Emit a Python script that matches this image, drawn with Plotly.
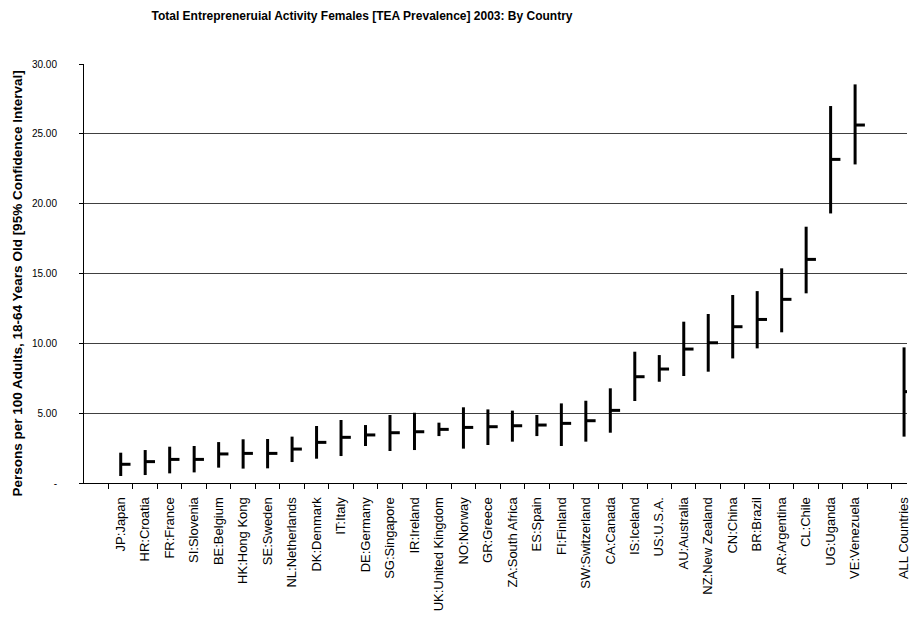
import plotly.graph_objects as go

labels = ["JP:Japan", "HR:Croatia", "FR:France", "SI:Slovenia", "BE:Belgium", "HK:Hong Kong",
          "SE:Sweden", "NL:Netherlands", "DK:Denmark", "IT:Italy", "DE:Germany", "SG:Singapore",
          "IR:Ireland", "UK:United Kingdom", "NO:Norway", "GR:Greece", "ZA:South Africa",
          "ES:Spain", "FI:Finland", "SW:Switzerland", "CA:Canada", "IS:Iceland", "US:U.S.A.",
          "AU:Australia", "NZ:New Zealand", "CN:China", "BR:Brazil", "AR:Argentina", "CL:Chile",
          "UG:Uganda", "VE:Venezuela", "ALL Countries"]
positions = list(range(1, 32)) + [33]

low = [0.50, 0.57, 0.69, 0.76, 1.10, 1.03, 1.05, 1.50, 1.74, 1.93, 2.65, 2.29, 2.36, 3.36,
       2.46, 2.72, 2.96, 3.36, 2.65, 2.96, 3.60, 5.87, 7.25, 7.66, 7.97, 8.92, 9.64, 10.79,
       13.58, 19.30, 22.81, 3.32]
mean = [1.34, 1.53, 1.69, 1.69, 2.08, 2.12, 2.12, 2.43, 2.91, 3.27, 3.44, 3.60, 3.67, 3.84,
        3.98, 4.03, 4.10, 4.15, 4.27, 4.46, 5.20, 7.61, 8.16, 9.59, 10.04, 11.19, 11.71, 13.15,
        16.01, 23.17, 25.63, 6.54]
high = [2.17, 2.36, 2.60, 2.65, 2.93, 3.13, 3.15, 3.32, 4.08, 4.51, 4.15, 4.87, 5.03, 4.32,
        5.42, 5.27, 5.18, 4.87, 5.70, 5.89, 6.78, 9.40, 9.16, 11.55, 12.10, 13.46, 13.74, 15.37,
        18.35, 26.99, 28.54, 9.71]

ytick_vals = [0, 5, 10, 15, 20, 25, 30]
ytick_text = ["-", "5.00", "10.00", "15.00", "20.00", "25.00", "30.00"]

tick_len = 0.4

vx, vy, tx, ty = [], [], [], []
for p, lo, m, hi in zip(positions, low, mean, high):
    vx += [p, p, None]
    vy += [lo, hi, None]
    tx += [p, p + tick_len, None]
    ty += [m, m, None]

font = "Liberation Sans, Arial, sans-serif"
fig = go.Figure()
fig.add_trace(go.Scatter(x=vx, y=vy, mode="lines", line=dict(color="black", width=3),
                         hoverinfo="skip", showlegend=False))
fig.add_trace(go.Scatter(x=tx, y=ty, mode="lines", line=dict(color="black", width=3),
                         hoverinfo="skip", showlegend=False))

fig.update_layout(
    width=911, height=619,
    margin=dict(l=84, r=0, t=64, b=136),
    paper_bgcolor="white", plot_bgcolor="white",
    title=dict(text="<b>Total Entrepreneruial Activity Females [TEA Prevalence] 2003: By Country</b>",
               x=362 / 911, xanchor="center", xref="container", y=0.975, yanchor="middle",
               font=dict(family=font, size=12, color="black")),
    font=dict(family=font, color="black"),
    xaxis=dict(range=[-0.5, 33.12], tickmode="array", tickvals=positions, ticktext=labels,
               tickangle=-90, ticks="", showgrid=False, zeroline=False,
               showline=True, linecolor="black", linewidth=1,
               tickfont=dict(family=font, size=13, color="black"),
               ticklabelstandoff=8, ticklabeloverflow="allow",
               minor=dict(tickmode="array", tickvals=[i + 0.5 for i in range(33)],
                          ticks="outside", ticklen=5, tickcolor="black", tickwidth=1,
                          showgrid=False)),
    yaxis=dict(range=[0, 30], tickmode="array", tickvals=ytick_vals, ticktext=ytick_text,
               ticks="outside", ticklen=4, tickcolor="black",
               showgrid=True, gridcolor="#404040", gridwidth=1, zeroline=False,
               showline=True, linecolor="black", linewidth=1,
               tickfont=dict(family=font, size=10, color="black"),
               ticklabelstandoff=20),
    annotations=[dict(text="<b>Persons per 100 Adults, 18-64 Years Old [95% Confidence Interval]</b>",
                      xref="paper", yref="paper", x=0, y=0.5, xshift=-67, yshift=-10,
                      xanchor="center", yanchor="middle", textangle=-90, showarrow=False,
                      font=dict(family=font, size=13.5, color="black"))],
)

fig.write_html("out.html")
